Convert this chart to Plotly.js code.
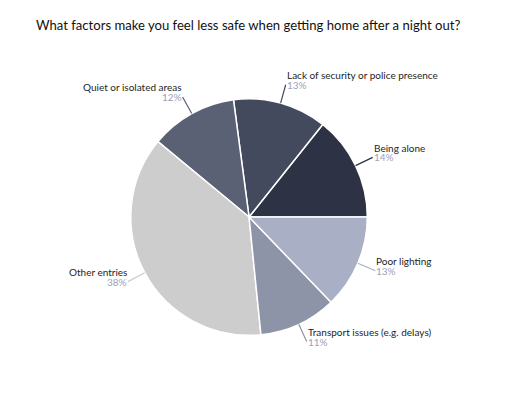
<!DOCTYPE html>
<html>
<head>
<meta charset="utf-8">
<script src="https://cdn.plot.ly/plotly-3.0.1.min.js"></script>
<style>html,body{margin:0;padding:0;background:#fff;}#chart{width:506px;height:415px;}</style>
</head>
<body>
<div id="chart"></div>
<script>
const titleText = "What factors make you feel less safe when getting home after a night out?";
const categories = ["Being alone", "Lack of security or police presence", "Quiet or isolated areas", "Other entries", "Transport issues (e.g. delays)", "Poor lighting"];
const values = [14.3, 12.8, 11.9, 37.6, 10.6, 12.8];
const percentLabels = ["14%", "13%", "12%", "38%", "11%", "13%"];
const colors = ["#2d3244", "#444a5e", "#5a6174", "#cdcdcd", "#8d94a8", "#a9b0c5"];

const W = 506, H = 415;
const domainX = [0.2585, 0.7259];
const domainY = [0.1920, 0.7622];
const startDeg = 0; // first slice starts at 3 o'clock, going counterclockwise
const FONT = "Lato, 'Open Sans', sans-serif";

const cx = (domainX[0] + domainX[1]) / 2 * W;
const cy = (1 - (domainY[0] + domainY[1]) / 2) * H;
const R = Math.min((domainX[1] - domainX[0]) * W, (domainY[1] - domainY[0]) * H) / 2;
const total = values.reduce((a, b) => a + b, 0);

const annotations = [];
let acc = 0;
values.forEach((v, i) => {
  const mid = (startDeg + (acc + v / 2) / total * 360) * Math.PI / 180;
  acc += v;
  const c = Math.cos(mid), s = Math.sin(mid);
  const ex = cx + R * c, ey = cy - R * s;
  const L = 19;
  const tx = ex + L * c, ty = ey - L * s;
  const right = c >= 0;
  const xa = right ? "left" : "right";
  annotations.push({
    xref: "paper", yref: "paper",
    x: ex / W, y: 1 - ey / H,
    ax: L * c, ay: -L * s,
    showarrow: true, arrowhead: 0, arrowwidth: 1.2, arrowcolor: colors[i],
    standoff: 0, startstandoff: 0,
    xanchor: xa, yanchor: "middle", align: xa,
    borderpad: 0,
    text: percentLabels[i],
    font: {family: FONT, size: 10, color: "#9ba1b9"}
  });
  annotations.push({
    xref: "paper", yref: "paper",
    x: tx / W, y: 1 - ty / H, yshift: 9.8,
    showarrow: false,
    xanchor: xa, yanchor: "middle", align: xa,
    borderpad: 0,
    text: categories[i],
    font: {family: FONT, size: 10, color: "#1e1e1e"}
  });
});

const firstSliceDeg = values[0] / total * 360;
const trace = {
  type: "pie",
  labels: categories,
  values: values,
  sort: false,
  direction: "counterclockwise",
  rotation: 90 - startDeg - firstSliceDeg,
  textinfo: "none",
  hoverinfo: "label+percent",
  marker: {colors: colors, line: {color: "#ffffff", width: 1.5}},
  domain: {x: domainX, y: domainY},
  automargin: false
};

const layout = {
  width: W, height: H,
  margin: {l: 0, r: 0, t: 0, b: 0},
  paper_bgcolor: "#ffffff",
  showlegend: false,
  title: {
    text: titleText,
    x: 36 / W, xanchor: "left", xref: "container",
    y: 1 - 25 / H, yanchor: "middle", yref: "container",
    font: {family: FONT, size: 13.1, color: "#111111", weight: 400}
  },
  annotations: annotations
};

Plotly.newPlot("chart", [trace], layout, {displayModeBar: false, staticPlot: true});
</script>
</body>
</html>
